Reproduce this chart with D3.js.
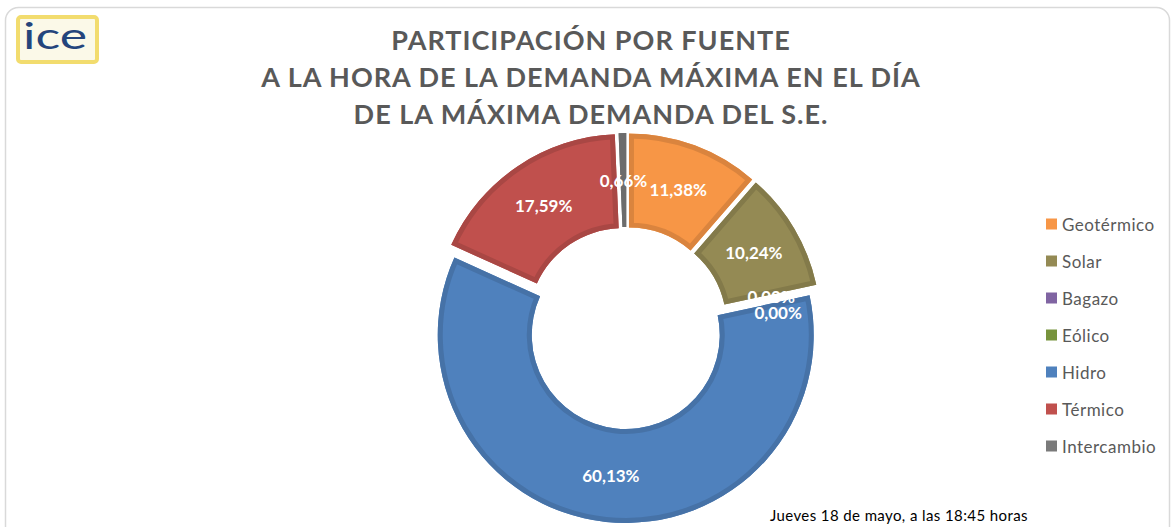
<!DOCTYPE html>
<html>
<head>
<meta charset="utf-8">
<script src="https://cdn.jsdelivr.net/npm/d3@7"></script>
<style>
  body { margin: 0; background: #fff; }
  text { font-family: Lato, 'Open Sans', sans-serif; }
</style>
</head>
<body>
<div id="chart-area"></div>
<script>
// data
const categories = ['Geotérmico', 'Solar', 'Bagazo', 'Eólico', 'Hidro', 'Térmico', 'Intercambio'];
const shares = [11.38, 10.24, 0.0, 0.0, 60.13, 17.59, 0.66];
const titleLines = [
  'PARTICIPACIÓN POR FUENTE',
  'A LA HORA DE LA DEMANDA MÁXIMA EN EL DÍA',
  'DE LA MÁXIMA DEMANDA DEL S.E.'
];
const footnote = 'Jueves 18 de mayo, a las 18:45 horas';

let width = 1172;
let height = 527;

let svg = d3
  .select('#chart-area')
  .append('svg')
  .attr('width', width)
  .attr('height', height);

//chart frame
svg
  .append('rect')
  .attr('x', 5.5)
  .attr('y', 7.5)
  .attr('width', 1164)
  .attr('height', 560)
  .attr('rx', 13)
  .style('fill', '#fff')
  .style('stroke', '#d9d9d9')
  .style('stroke-width', 1.5);

//logo
let logo = svg.append('g').attr('transform', 'translate(17,16)');
logo
  .append('rect')
  .attr('x', 1)
  .attr('y', 1)
  .attr('width', 79)
  .attr('height', 45)
  .attr('rx', 3)
  .style('fill', '#fbf9e8')
  .style('stroke', '#f2dc6e')
  .style('stroke-width', 4);
logo
  .append('text')
  .attr('x', 6)
  .attr('y', 33)
  .attr('textLength', 64)
  .attr('lengthAdjust', 'spacingAndGlyphs')
  .style('font-size', '36px')
  .style('font-weight', 400)
  .style('fill', '#24457c')
  .text('ice');

//title
svg
  .append('g')
  .selectAll('text')
  .data(titleLines)
  .enter()
  .append('text')
  .attr('x', 591)
  .attr('y', (d, i) => 50 + i * 37)
  .attr('text-anchor', 'middle')
  .style('font-size', '27px')
  .style('letter-spacing', '1px')
  .style('font-weight', 700)
  .style('fill', '#595959')
  .text((d) => d);

let colorScale = d3
  .scaleOrdinal()
  .domain(categories)
  .range(['#f79646', '#948a54', '#8064a2', '#77933c', '#4f81bd', '#c0504d', '#7a7a7a']);

let rows = categories.map((c, i) => ({ name: c, value: shares[i] }));

let cx = 626.5;
let cy = 328;
let outer = 188;
let inner = 94;
let explode = 7;

let pie = d3
  .pie()
  .sort(null)
  .value((d) => d.value);
let arcs = pie(rows);
let arc = d3.arc().innerRadius(inner).outerRadius(outer);
let labelArc = d3
  .arc()
  .innerRadius((inner + outer) / 2 + explode)
  .outerRadius((inner + outer) / 2 + explode);

let offset = (d) => {
  let a = (d.startAngle + d.endAngle) / 2;
  return [Math.sin(a) * explode, -Math.cos(a) * explode];
};

let donut = svg.append('g').attr('transform', `translate(${cx},${cy})`);
let defs = svg.append('defs');

let drawn = arcs.filter((d) => d.value > 0);
drawn.forEach((d, i) => {
  defs
    .append('clipPath')
    .attr('id', 'clip' + i)
    .append('path')
    .attr('d', arc(d));
});

let slices = donut
  .selectAll('g.slice')
  .data(drawn)
  .enter()
  .append('g')
  .attr('class', 'slice')
  .attr('transform', (d) => `translate(${offset(d)})`);

slices
  .append('path')
  .attr('d', arc)
  .style('fill', (d) => colorScale(d.data.name));

//darker inside border, like the office chart
slices
  .append('path')
  .attr('d', arc)
  .attr('clip-path', (d, i) => `url(#clip${i})`)
  .style('fill', 'none')
  .style('stroke', (d) => d3.color(colorScale(d.data.name)).darker(0.35))
  .style('stroke-width', 10);

let fmt = d3.formatLocale({ decimal: ',', thousands: '.', grouping: [3], currency: ['', ''] }).format('.2f');

//label spots, pushed down when two of them fall on top of each other
let spots = arcs.map((d) => labelArc.centroid(d));
spots.forEach((p, i) => {
  for (let j = 0; j < i; j++) {
    if (Math.abs(spots[j][0] - p[0]) < 30 && Math.abs(spots[j][1] - p[1]) < 14) {
      p[1] = spots[j][1] + 16;
      p[0] = spots[j][0] + 7;
    }
  }
});

donut
  .selectAll('text.label')
  .data(arcs)
  .enter()
  .append('text')
  .attr('class', 'label')
  .attr('x', (d, i) => spots[i][0])
  .attr('y', (d, i) => spots[i][1])
  .attr('text-anchor', 'middle')
  .attr('dominant-baseline', 'central')
  .style('font-size', '17px')
  .style('font-weight', 700)
  .style('fill', '#fff')
  .text((d) => fmt(d.value) + '%');

//legend
let legendItem = svg
  .append('g')
  .selectAll('g')
  .data(categories)
  .enter()
  .append('g')
  .attr('transform', (d, i) => `translate(1046, ${224 + i * 37})`);

legendItem
  .append('rect')
  .attr('y', -5.5)
  .attr('width', 11)
  .attr('height', 11)
  .style('fill', (d) => colorScale(d));

legendItem
  .append('text')
  .attr('x', 16)
  .attr('dominant-baseline', 'central')
  .style('font-size', '17px')
  .style('letter-spacing', '0.5px')
  .style('fill', '#595959')
  .text((d) => d);

svg
  .append('text')
  .attr('x', 770)
  .attr('y', 521)
  .style('font-size', '15px')
  .style('letter-spacing', '0.4px')
  .style('fill', '#000')
  .text(footnote);
</script>
</body>
</html>
